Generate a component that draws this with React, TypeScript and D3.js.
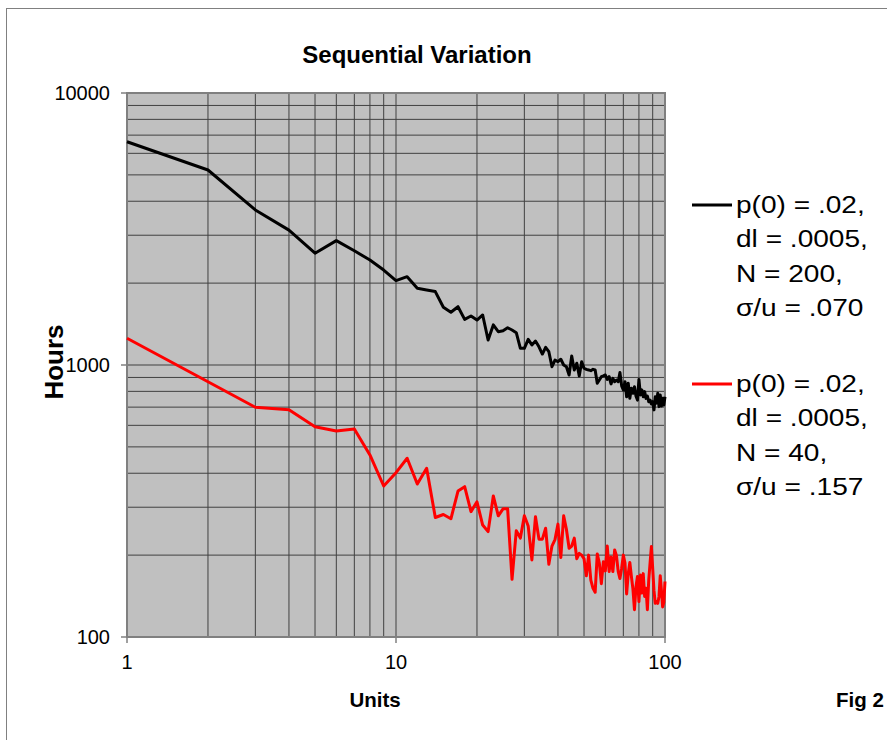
import React from "react";
import * as d3 from "d3";

const units: number[] = Array.from({ length: 100 }, (_, i) => i + 1);

const blackHours: number[] = [
  6620, 5210, 3715, 3133, 2576, 2865, 2630, 2431, 2234, 2042,
  2112, 1915, 1887, 1862, 1631, 1563, 1638, 1472, 1514, 1463,
  1527, 1236, 1404, 1326, 1337, 1371, 1345, 1315, 1152, 1152,
  1242, 1185, 1225, 1167, 1097, 1161, 1119, 986, 1043, 1028,
  1050, 1000, 986, 919, 1079, 959, 1015, 912, 1028, 973,
  964, 959, 953, 964, 959, 857, 881, 906, 912, 919,
  885, 906, 852, 893, 868, 881, 868, 938, 838, 810,
  868, 764, 857, 754, 821, 787, 832, 769, 743, 885,
  776, 810, 764, 798, 754, 769, 733, 743, 719, 733,
  684, 764, 724, 787, 703, 776, 707, 754, 713, 764,
];

const redHours: number[] = [
  1254, 868, 699, 684, 593, 572, 582, 467, 359, 402,
  454, 365, 417, 275, 282, 272, 344, 357, 289, 314,
  258, 244, 330, 279, 296, 296, 163, 246, 231, 279,
  256, 192, 277, 229, 229, 251, 185, 216, 228, 260,
  196, 279, 249, 212, 216, 231, 194, 203, 200, 194,
  168, 200, 162, 151, 146, 202, 187, 157, 189, 175,
  216, 174, 197, 174, 209, 199, 174, 164, 179, 200,
  187, 144, 171, 188, 167, 150, 126, 153, 167, 135,
  169, 145, 171, 141, 151, 126, 162, 187, 215, 179,
  148, 133, 135, 133, 141, 168, 148, 129, 134, 160,
];

const xTickLabels: number[] = [1, 10, 100];
const yTickLabels: number[] = [100, 1000, 10000];

const blackLegend: string[] = ["p(0) = .02,", "dl = .0005,", "N = 200,", "σ/u = .070"];
const redLegend: string[] = ["p(0) = .02,", "dl = .0005,", "N = 40,", "σ/u = .157"];

const W = 887;
const H = 740;
const left = 127;
const right = 665;
const top = 93;
const bottom = 637;

export default function App() {
  const x = d3.scaleLog().domain([1, 100]).range([left, right]);
  const y = d3.scaleLog().domain([100, 10000]).range([bottom, top]);

  const xGrid: number[] = [];
  for (let d = 1; d < 100; d *= 10) for (let k = 2; k <= 9; k++) xGrid.push(d * k);
  xGrid.push(10);
  const yGrid: number[] = [];
  for (let d = 100; d < 10000; d *= 10) for (let k = 2; k <= 9; k++) yGrid.push(d * k);
  yGrid.push(1000);

  const line = d3
    .line<number>()
    .x((_, i) => x(units[i]))
    .y((v) => y(v));

  const font = "Arial, 'Liberation Sans', sans-serif";

  const legend = (lines: string[], color: string, y0: number) => (
    <g>
      <line x1={692} x2={732} y1={y0} y2={y0} stroke={color} strokeWidth={3} />
      {lines.map((t, i) => (
        <text
          key={i}
          x={0}
          y={0}
          transform={`translate(736, ${y0 + 8 + i * 34.3}) scale(1.17, 1)`}
          fontSize={24}
          fontFamily={font}
          fill="#000"
        >
          {t}
        </text>
      ))}
    </g>
  );

  return (
    <svg
      width={W}
      height={H}
      style={{ position: "absolute", left: 0, top: 0, background: "#fff" }}
    >
      <rect x={6.5} y={8.5} width={W + 10} height={H + 10} fill="#fff" stroke="#808080" strokeWidth={1} />
      <rect x={left} y={top} width={right - left} height={bottom - top} fill="#c0c0c0" />
      {xGrid.map((v, i) => (
        <line key={"xg" + i} x1={x(v)} x2={x(v)} y1={top} y2={bottom} stroke="#404040" strokeWidth={1} />
      ))}
      {yGrid.map((v, i) => (
        <line key={"yg" + i} x1={left} x2={right} y1={y(v)} y2={y(v)} stroke="#404040" strokeWidth={1} />
      ))}
      <rect x={left} y={top} width={right - left} height={bottom - top} fill="none" stroke="#808080" strokeWidth={2} />
      {yTickLabels.map((v) => (
        <g key={"yt" + v}>
          <line x1={left - 6} x2={left} y1={y(v)} y2={y(v)} stroke="#808080" strokeWidth={1.5} />
          <text x={110} y={y(v) + 7} textAnchor="end" fontSize={20} fontFamily={font}>
            {v}
          </text>
        </g>
      ))}
      {xTickLabels.map((v) => (
        <g key={"xt" + v}>
          <line x1={x(v)} x2={x(v)} y1={bottom} y2={bottom + 6} stroke="#808080" strokeWidth={1.5} />
          <text x={x(v)} y={669} textAnchor="middle" fontSize={20} fontFamily={font}>
            {v}
          </text>
        </g>
      ))}
      <path d={line(blackHours) || ""} fill="none" stroke="#000" strokeWidth={3} strokeLinejoin="round" />
      <path d={line(redHours) || ""} fill="none" stroke="#ff0000" strokeWidth={3} strokeLinejoin="round" />
      <text x={417} y={63} textAnchor="middle" fontSize={24} fontWeight="bold" fontFamily={font}>
        Sequential Variation
      </text>
      <text x={375} y={707} textAnchor="middle" fontSize={20.5} fontWeight="bold" fontFamily={font}>
        Units
      </text>
      <text x={860} y={707} textAnchor="middle" fontSize={20.5} fontWeight="bold" fontFamily={font}>
        Fig 2
      </text>
      <text
        transform={`translate(63, 362) rotate(-90)`}
        textAnchor="middle"
        fontSize={26}
        fontWeight="bold"
        fontFamily={font}
      >
        Hours
      </text>
      {legend(blackLegend, "#000", 205)}
      {legend(redLegend, "#ff0000", 384)}
    </svg>
  );
}
